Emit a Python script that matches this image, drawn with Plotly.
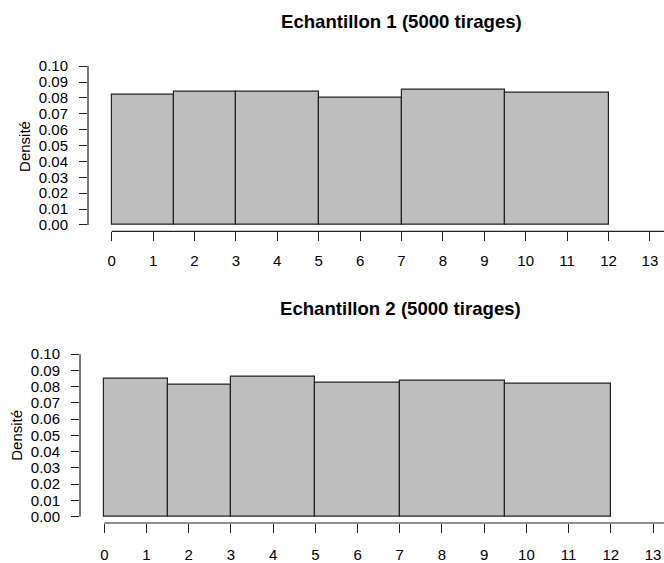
import plotly.graph_objects as go

# ---- data ----
edges = [0, 1.5, 3, 5, 7, 9.5, 12]
dens1 = [0.0818, 0.0840, 0.0840, 0.0803, 0.0848, 0.0834]
dens2 = [0.0850, 0.0815, 0.0860, 0.0825, 0.0839, 0.0819]
x_ticks = list(range(0, 14))
y_ticks = [0.00, 0.01, 0.02, 0.03, 0.04, 0.05, 0.06, 0.07, 0.08, 0.09, 0.10]
y_ticklabels = [f"{v:.2f}" for v in y_ticks]
titles = ["Echantillon 1 (5000 tirages)", "Echantillon 2 (5000 tirages)"]
ylabel = "Densité"

W, H = 664, 563
FONT = "Liberation Sans, Arial, sans-serif"

mids = [(a + b) / 2 for a, b in zip(edges[:-1], edges[1:])]
widths = [b - a for a, b in zip(edges[:-1], edges[1:])]

fig = go.Figure()

panels = [
    dict(dens=dens1, left=88, top=58.6, bottom=232.6, xr=[-0.572, 13.34],
         title_xy=(401.7, 20), ylab_x=25, ylab_y=147),
    dict(dens=dens2, left=80, top=350.7, bottom=528.5, xr=[-0.576, 13.26],
         title_xy=(400, 311), ylab_x=17, ylab_y=440),
]

for i, p in enumerate(panels):
    n = "" if i == 0 else str(i + 1)
    fig.add_trace(go.Bar(
        x=mids, y=p["dens"], width=widths, base=0,
        marker=dict(color="#BEBEBE", line=dict(color="#222222", width=1.2)),
        xaxis="x" + n, yaxis="y" + n, showlegend=False, hoverinfo="skip",
    ))
    fig.update_layout(**{
        "xaxis" + n: dict(
            domain=[p["left"] / W, 1], range=p["xr"], anchor="y" + n,
            tickmode="array", tickvals=x_ticks, ticktext=[str(t) for t in x_ticks],
            ticks="outside", ticklen=9, tickwidth=1, tickcolor="#222222",
            showgrid=False, zeroline=False, showline=False,
            tickfont=dict(family=FONT, size=15, color="black"),
            ticklabelstandoff=7 if i == 0 else 9, ticklabeloverflow="allow",
            fixedrange=True,
        ),
        "yaxis" + n: dict(
            domain=[1 - p["bottom"] / H, 1 - p["top"] / H], range=[-0.004, 0.104],
            anchor="x" + n,
            tickmode="array", tickvals=y_ticks, ticktext=y_ticklabels,
            ticks="outside", ticklen=8, tickwidth=1, tickcolor="#222222",
            showgrid=False, zeroline=False, showline=False,
            tickfont=dict(family=FONT, size=15, color="black"),
            ticklabelstandoff=8, fixedrange=True,
        ),
    })
    # axis lines (R style: spanning ticks only)
    fig.add_shape(type="line", xref="x" + n, yref="y" + n + " domain",
                  x0=x_ticks[0], x1=p["xr"][1], y0=0, y1=0,
                  line=dict(color="#222222", width=1.2))
    fig.add_shape(type="line", xref="x" + n + " domain", yref="y" + n,
                  x0=0, x1=0, y0=y_ticks[0], y1=y_ticks[-1],
                  line=dict(color="#222222", width=1.2))
    tx, ty = p["title_xy"]
    fig.add_annotation(text="<b>" + titles[i] + "</b>", xref="paper", yref="paper",
                       x=tx / W, y=1 - ty / H, xanchor="center", yanchor="middle",
                       showarrow=False, font=dict(family=FONT, size=18.6, color="black"))
    fig.add_annotation(text=ylabel, xref="paper", yref="paper",
                       x=p["ylab_x"] / W, y=1 - p["ylab_y"] / H, textangle=-90,
                       xanchor="center", yanchor="middle", showarrow=False,
                       font=dict(family=FONT, size=15, color="black"))

fig.update_layout(
    width=W, height=H, margin=dict(l=0, r=0, t=0, b=0),
    paper_bgcolor="white", plot_bgcolor="white", bargap=0,
)

fig.write_html(
    "out.html",
    config={"displayModeBar": False},
    post_script="document.body.style.margin='0';document.body.style.overflow='hidden';",
)
